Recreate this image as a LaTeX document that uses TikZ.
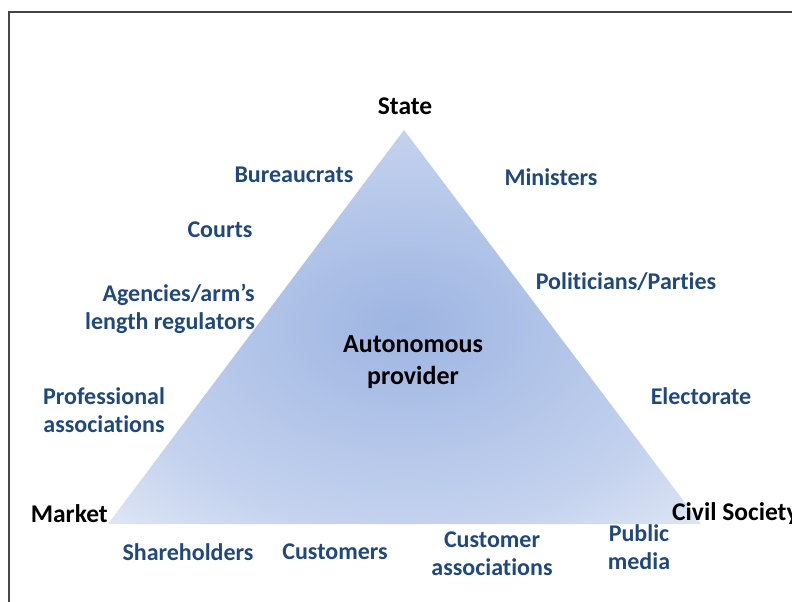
\documentclass[tikz,border=0pt]{standalone}
\usepackage{fontspec}
\setmainfont{Carlito}[Ligatures=NoCommon]
\definecolor{lbl}{RGB}{31,72,126}
\definecolor{framec}{RGB}{70,70,70}
\definecolor{tcen}{RGB}{158,181,226}
\definecolor{tmid}{RGB}{196,210,238}
\definecolor{tout}{RGB}{224,231,245}
\pgfdeclareradialshading{trishade}{\pgfpoint{0bp}{0bp}}{color(0bp)=(tcen); color(25bp)=(tmid); color(36bp)=(tout); color(50bp)=(tout)}
\tikzset{
  actor/.style={font=\fontsize{24}{28}\selectfont\bfseries, text=lbl, inner sep=0pt, align=center},
  pole/.style={font=\fontsize{25.5}{30}\selectfont\bfseries, text=black, inner sep=0pt},
  centre/.style={font=\fontsize{26}{32}\selectfont\bfseries, text=black, inner sep=0pt, align=center},
  frameline/.style={draw=framec, line width=2pt}
}
\begin{document}
\begin{tikzpicture}[x=1pt,y=-1pt]
\useasboundingbox (0,0) rectangle (792,602);
% frame (cut at right and bottom)
\draw[frameline] (9,602) -- (9,12) -- (792,12);
% triangle
\coordinate (apex) at (404,130);
\coordinate (bl) at (108,524);
\coordinate (br) at (701,524);
\shade[shading=trishade] (apex) -- (br) -- (bl) -- cycle;
% poles
\node[pole] (state) at (405,106) {State};
\node[pole, anchor=east] (market) at (108,514) {Market};
\node[pole, anchor=west] (civil) at (672,514) {Civil Society};
% centre
\node[centre] (auto) at (413,362) {Autonomous\\provider};
% actors
\node[actor] (bur) at (294,175) {Bureaucrats};
\node[actor] (min) at (551,177) {Ministers};
\node[actor] (courts) at (220,230) {Courts};
\node[actor] (pol) at (626,282) {Politicians/Parties};
\node[actor, align=right, anchor=east] (agen) at (255,309) {Agencies/arm’s\\length regulators};
\node[actor] (prof) at (104,410) {Professional\\associations};
\node[actor] (elect) at (701,396) {Electorate};
\node[actor] (share) at (188,552) {Shareholders};
\node[actor] (cust) at (335,552) {Customers};
\node[actor] (custass) at (492,554) {Customer\\associations};
\node[actor] (pubmed) at (639,547) {Public\\media};
\end{tikzpicture}
\end{document}
